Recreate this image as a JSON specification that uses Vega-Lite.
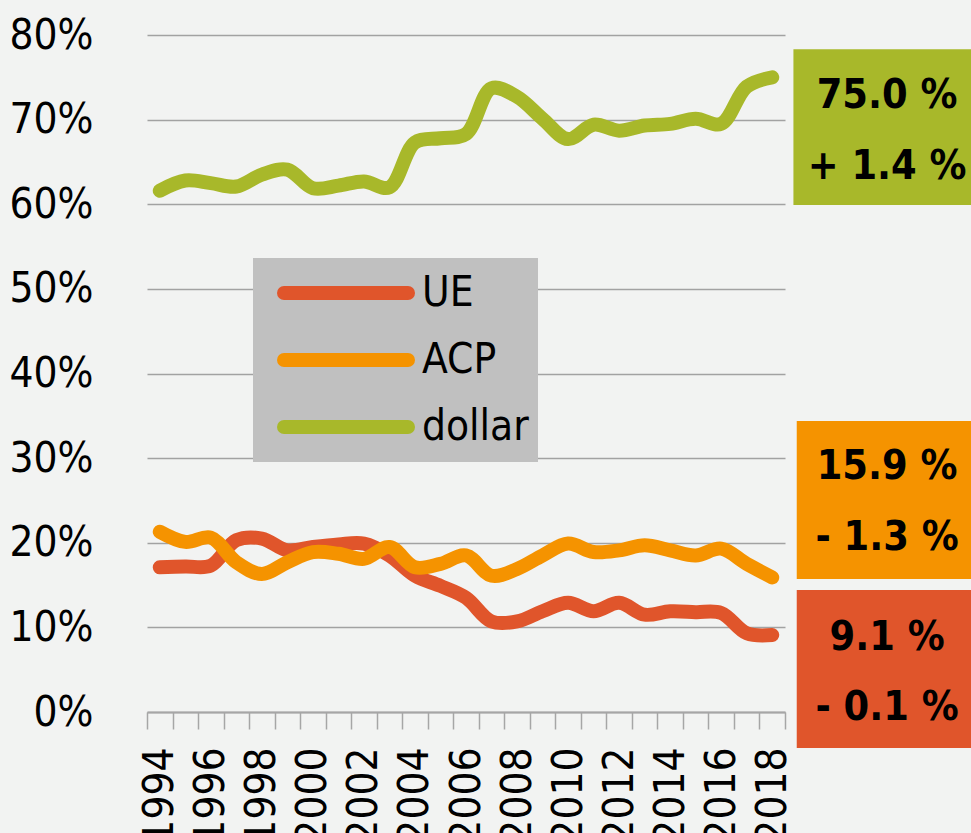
{
  "$schema": "https://vega.github.io/schema/vega-lite/v6.json",
  "width": 638,
  "height": 677,
  "autosize": "none",
  "padding": {"left": 147, "top": 35, "right": 186, "bottom": 121},
  "background": "#F2F3F2",
  "config": {
    "view": {"stroke": null},
    "font": "DejaVu Sans Condensed, Liberation Sans Narrow, sans-serif"
  },
  "datasets": {
    "shares": [
      {"series": "UE", "year": 1994, "share": 0.171},
      {"series": "UE", "year": 1995, "share": 0.172},
      {"series": "UE", "year": 1996, "share": 0.173},
      {"series": "UE", "year": 1997, "share": 0.203},
      {"series": "UE", "year": 1998, "share": 0.205},
      {"series": "UE", "year": 1999, "share": 0.191},
      {"series": "UE", "year": 2000, "share": 0.195},
      {"series": "UE", "year": 2001, "share": 0.198},
      {"series": "UE", "year": 2002, "share": 0.199},
      {"series": "UE", "year": 2003, "share": 0.185},
      {"series": "UE", "year": 2004, "share": 0.161},
      {"series": "UE", "year": 2005, "share": 0.149},
      {"series": "UE", "year": 2006, "share": 0.135},
      {"series": "UE", "year": 2007, "share": 0.107},
      {"series": "UE", "year": 2008, "share": 0.107},
      {"series": "UE", "year": 2009, "share": 0.119},
      {"series": "UE", "year": 2010, "share": 0.129},
      {"series": "UE", "year": 2011, "share": 0.119},
      {"series": "UE", "year": 2012, "share": 0.129},
      {"series": "UE", "year": 2013, "share": 0.115},
      {"series": "UE", "year": 2014, "share": 0.119},
      {"series": "UE", "year": 2015, "share": 0.118},
      {"series": "UE", "year": 2016, "share": 0.117},
      {"series": "UE", "year": 2017, "share": 0.093},
      {"series": "UE", "year": 2018, "share": 0.091},
      {"series": "ACP", "year": 1994, "share": 0.213},
      {"series": "ACP", "year": 1995, "share": 0.201},
      {"series": "ACP", "year": 1996, "share": 0.206},
      {"series": "ACP", "year": 1997, "share": 0.177},
      {"series": "ACP", "year": 1998, "share": 0.163},
      {"series": "ACP", "year": 1999, "share": 0.177},
      {"series": "ACP", "year": 2000, "share": 0.189},
      {"series": "ACP", "year": 2001, "share": 0.187},
      {"series": "ACP", "year": 2002, "share": 0.181},
      {"series": "ACP", "year": 2003, "share": 0.195},
      {"series": "ACP", "year": 2004, "share": 0.171},
      {"series": "ACP", "year": 2005, "share": 0.175},
      {"series": "ACP", "year": 2006, "share": 0.185},
      {"series": "ACP", "year": 2007, "share": 0.161},
      {"series": "ACP", "year": 2008, "share": 0.169},
      {"series": "ACP", "year": 2009, "share": 0.185},
      {"series": "ACP", "year": 2010, "share": 0.199},
      {"series": "ACP", "year": 2011, "share": 0.189},
      {"series": "ACP", "year": 2012, "share": 0.191},
      {"series": "ACP", "year": 2013, "share": 0.197},
      {"series": "ACP", "year": 2014, "share": 0.191},
      {"series": "ACP", "year": 2015, "share": 0.185},
      {"series": "ACP", "year": 2016, "share": 0.193},
      {"series": "ACP", "year": 2017, "share": 0.175},
      {"series": "ACP", "year": 2018, "share": 0.159},
      {"series": "dollar", "year": 1994, "share": 0.616},
      {"series": "dollar", "year": 1995, "share": 0.628},
      {"series": "dollar", "year": 1996, "share": 0.625},
      {"series": "dollar", "year": 1997, "share": 0.621},
      {"series": "dollar", "year": 1998, "share": 0.635},
      {"series": "dollar", "year": 1999, "share": 0.641},
      {"series": "dollar", "year": 2000, "share": 0.619},
      {"series": "dollar", "year": 2001, "share": 0.622},
      {"series": "dollar", "year": 2002, "share": 0.627},
      {"series": "dollar", "year": 2003, "share": 0.620},
      {"series": "dollar", "year": 2004, "share": 0.673},
      {"series": "dollar", "year": 2005, "share": 0.678},
      {"series": "dollar", "year": 2006, "share": 0.683},
      {"series": "dollar", "year": 2007, "share": 0.737},
      {"series": "dollar", "year": 2008, "share": 0.727},
      {"series": "dollar", "year": 2009, "share": 0.701},
      {"series": "dollar", "year": 2010, "share": 0.677},
      {"series": "dollar", "year": 2011, "share": 0.694},
      {"series": "dollar", "year": 2012, "share": 0.687},
      {"series": "dollar", "year": 2013, "share": 0.693},
      {"series": "dollar", "year": 2014, "share": 0.695},
      {"series": "dollar", "year": 2015, "share": 0.701},
      {"series": "dollar", "year": 2016, "share": 0.695},
      {"series": "dollar", "year": 2017, "share": 0.739},
      {"series": "dollar", "year": 2018, "share": 0.750}
    ],
    "notes": [
      {"series": "dollar", "label": ["75.0 %", "+ 1.4 %"]},
      {"series": "ACP", "label": ["15.9 %", "- 1.3 %"]},
      {"series": "UE", "label": ["9.1 %", "- 0.1 %"]}
    ]
  },
  "layer": [
    {
      "data": {"name": "shares"},
      "mark": {"type": "line", "interpolate": "catmull-rom", "strokeWidth": 14, "strokeCap": "round", "strokeJoin": "round"},
      "encoding": {
        "x": {
          "field": "year", "type": "quantitative",
          "scale": {"domain": [1993.5, 2018.5], "nice": false, "zero": false},
          "axis": {
            "title": null,
            "values": [1993.5, 1994.5, 1995.5, 1996.5, 1997.5, 1998.5, 1999.5, 2000.5, 2001.5, 2002.5, 2003.5, 2004.5, 2005.5, 2006.5, 2007.5, 2008.5, 2009.5, 2010.5, 2011.5, 2012.5, 2013.5, 2014.5, 2015.5, 2016.5, 2017.5, 2018.5],
            "tickCount": 40,
            "labelExpr": "(datum.value + 0.5) % 2 == 0 ? format(datum.value + 0.5, 'd') : ''",
            "labelAngle": 270,
            "labelAlign": "right",
            "labelBaseline": "middle",
            "labelOffset": 12.76,
            "labelPadding": 18,
            "labelFontSize": 42,
            "labelColor": "#000000",
            "labelOverlap": false,
            "labelFlush": false,
            "grid": false,
            "tickSize": 17,
            "tickColor": "#A6A6A6",
            "tickWidth": 1.5,
            "domainColor": "#A6A6A6",
            "domainWidth": 2
          }
        },
        "y": {
          "field": "share", "type": "quantitative",
          "scale": {"domain": [0, 0.8], "nice": false, "zero": true},
          "axis": {
            "title": null,
            "values": [0, 0.1, 0.2, 0.3, 0.4, 0.5, 0.6, 0.7, 0.8],
            "tickCount": 20,
            "format": ".0%",
            "domain": false,
            "ticks": false,
            "grid": true,
            "gridColor": "#A2A2A2",
            "gridWidth": 1.5,
            "labelFontSize": 42,
            "labelColor": "#000000",
            "labelPadding": 54,
            "labelFlush": false
          }
        },
        "color": {
          "field": "series", "type": "nominal",
          "scale": {"domain": ["UE", "ACP", "dollar"], "range": ["#E0552B", "#F59300", "#A8B82A"]},
          "legend": {
            "title": null,
            "orient": "none",
            "legendX": 106,
            "legendY": 223,
            "fillColor": "#C0C0C0",
            "padding": 9,
            "symbolType": "stroke",
            "symbolSize": 15376,
            "symbolStrokeWidth": 14,
            "symbolOffset": 15,
            "labelOffset": 7,
            "labelFontSize": 42,
            "labelColor": "#000000",
            "rowPadding": 15,
            "clipHeight": 52,
            "encode": {"symbols": {"update": {"strokeCap": {"value": "round"}}}}
          }
        }
      }
    },
    {
      "data": {"name": "notes"},
      "transform": [{"filter": "datum.series == 'dollar'"}],
      "mark": {"type": "rect", "color": "#A8B82A"},
      "encoding": {
        "x": {"datum": 2018.83, "type": "quantitative"},
        "x2": {"datum": 2026},
        "y": {"datum": 0.7831, "type": "quantitative"},
        "y2": {"datum": 0.5991}
      }
    },
    {
      "data": {"name": "notes"},
      "transform": [{"filter": "datum.series == 'ACP'"}],
      "mark": {"type": "rect", "color": "#F59300"},
      "encoding": {
        "x": {"datum": 2018.96, "type": "quantitative"},
        "x2": {"datum": 2026},
        "y": {"datum": 0.3439, "type": "quantitative"},
        "y2": {"datum": 0.1572}
      }
    },
    {
      "data": {"name": "notes"},
      "transform": [{"filter": "datum.series == 'UE'"}],
      "mark": {"type": "rect", "color": "#E0552B"},
      "encoding": {
        "x": {"datum": 2018.96, "type": "quantitative"},
        "x2": {"datum": 2026},
        "y": {"datum": 0.1442, "type": "quantitative"},
        "y2": {"datum": -0.0425}
      }
    },
    {
      "data": {"name": "notes"},
      "transform": [{"filter": "datum.series == 'dollar'"}],
      "mark": {"type": "text", "fontWeight": "bold", "fontSize": 41, "lineHeight": 71, "align": "center", "baseline": "middle", "color": "#000000"},
      "encoding": {
        "x": {"datum": 2022.5, "type": "quantitative"},
        "y": {"datum": 0.7285, "type": "quantitative"},
        "text": {"field": "label"}
      }
    },
    {
      "data": {"name": "notes"},
      "transform": [{"filter": "datum.series == 'ACP'"}],
      "mark": {"type": "text", "fontWeight": "bold", "fontSize": 41, "lineHeight": 71, "align": "center", "baseline": "middle", "color": "#000000"},
      "encoding": {
        "x": {"datum": 2022.5, "type": "quantitative"},
        "y": {"datum": 0.2901, "type": "quantitative"},
        "text": {"field": "label"}
      }
    },
    {
      "data": {"name": "notes"},
      "transform": [{"filter": "datum.series == 'UE'"}],
      "mark": {"type": "text", "fontWeight": "bold", "fontSize": 41, "lineHeight": 70, "align": "center", "baseline": "middle", "color": "#000000"},
      "encoding": {
        "x": {"datum": 2022.5, "type": "quantitative"},
        "y": {"datum": 0.0880, "type": "quantitative"},
        "text": {"field": "label"}
      }
    }
  ]
}
